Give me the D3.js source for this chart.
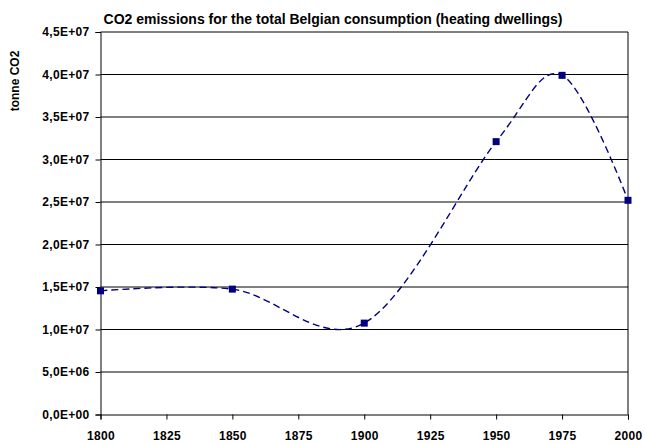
<!DOCTYPE html>
<html>
<head>
<meta charset="utf-8">
<script src="https://cdn.jsdelivr.net/npm/d3@7"></script>
<style>
  html, body { margin: 0; padding: 0; background: #fff; }
  svg { display: block; font-family: "Liberation Sans", Arial, sans-serif; }
</style>
</head>
<body>
<svg id="chart" width="645" height="444"></svg>
<script>
// Heating dwellings: total Belgian CO2 emissions (tonne CO2)
const years = [1800, 1850, 1900, 1950, 1975, 2000];
const emissions = [1.455e7, 1.475e7, 1.075e7, 3.21e7, 3.99e7, 2.52e7];
const xTicks = [1800, 1825, 1850, 1875, 1900, 1925, 1950, 1975, 2000];
const yTicks = [0, 5e6, 1e7, 1.5e7, 2e7, 2.5e7, 3e7, 3.5e7, 4e7, 4.5e7];

const svg = d3.select("#chart");
const x = d3.scaleLinear().domain([1800, 2000]).range([100.5, 628]);
const y = d3.scaleLinear().domain([0, 4.5e7]).range([414.5, 32]);
const FONT = '"Liberation Sans", Arial, sans-serif';

// "4,5E+07" style labels
const sci = v => {
  if (v === 0) return "0,0E+00";
  const e = Math.floor(Math.log10(v));
  const m = (v / Math.pow(10, e)).toFixed(1).replace(".", ",");
  return m + "E+" + String(e).padStart(2, "0");
};

// horizontal gridlines
svg.append("g").selectAll("line")
  .data(yTicks.filter(d => d > 0))
  .join("line")
  .attr("x1", x(1800)).attr("x2", x(2000))
  .attr("y1", d => y(d)).attr("y2", d => y(d))
  .attr("stroke", "#000")
  .attr("stroke-width", 1);

// right border of plot area
svg.append("line")
  .attr("x1", x(2000)).attr("x2", x(2000))
  .attr("y1", y(4.5e7)).attr("y2", y(0))
  .attr("stroke", "#000").attr("stroke-width", 1);

// axes
const yAxis = d3.axisLeft(y).tickValues(yTicks).tickFormat(sci).tickSize(5).tickPadding(6);
const xAxis = d3.axisBottom(x).tickValues(xTicks).tickFormat(d3.format("d")).tickSize(5).tickPadding(5);

const gy = svg.append("g").attr("transform", `translate(${x(1800)},0)`).call(yAxis);
const gx = svg.append("g").attr("transform", `translate(0,${y(0)})`).call(xAxis);
[gx, gy].forEach(g => {
  g.selectAll("path.domain").attr("stroke", "#000");
  g.selectAll(".tick line").attr("stroke", "#000");
  g.selectAll("text")
    .attr("fill", "#000")
    .style("font-family", FONT)
    .style("font-size", "12px")
    .style("font-weight", "bold")
    .style("letter-spacing", "0.3px");
});
gx.selectAll("text").attr("y", 440 - y(0)).attr("dy", 0);

// dashed smoothed series line
const line = d3.line()
  .x((d, i) => x(years[i]))
  .y(d => y(d))
  .curve(d3.curveCardinal.tension(0));

svg.append("path")
  .datum(emissions)
  .attr("d", line)
  .attr("fill", "none")
  .attr("stroke", "#000080")
  .attr("stroke-width", 1.4)
  .attr("stroke-dasharray", "7,4");

// square markers
const ms = 7;
svg.append("g").selectAll("rect")
  .data(emissions)
  .join("rect")
  .attr("x", (d, i) => x(years[i]) - ms / 2)
  .attr("y", d => y(d) - ms / 2)
  .attr("width", ms).attr("height", ms)
  .attr("fill", "#000080");

// title
svg.append("text")
  .attr("x", 333).attr("y", 24)
  .attr("text-anchor", "middle")
  .style("font-size", "14px")
  .style("font-weight", "bold")
  .text("CO2 emissions for the total Belgian consumption (heating dwellings)");

// y-axis title
svg.append("text")
  .attr("transform", "translate(19,81) rotate(-90)")
  .attr("text-anchor", "middle")
  .style("font-size", "12px")
  .style("font-weight", "bold")
  .text("tonne CO2");
</script>
</body>
</html>
